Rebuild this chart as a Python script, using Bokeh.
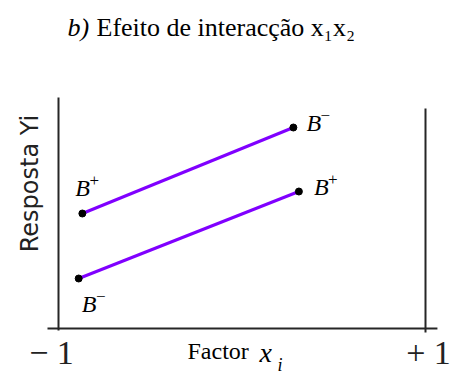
import math
from bokeh.plotting import figure
from bokeh.models import Range1d, Label
from bokeh.embed import file_html
from bokeh.resources import INLINE

# Levels of factor x_i shown on the horizontal axis
x_ticks = [-1, 1]
x_tick_labels = ["\u2212 1", "+ 1"]

# Response at the two ends of each line, with the level of B written at each end
upper_x = [-0.87, 0.28]
upper_y = [11.5, 20.1]
upper_levels = ["+", "\u2212"]

lower_x = [-0.89, 0.31]
lower_y = [5.0, 13.7]
lower_levels = ["\u2212", "+"]

title_tag = "b)"
title_text = "Efeito de interac\u00e7\u00e3o x\u2081x\u2082"
y_label = "Resposta Yi"
x_label = "Factor"
x_symbol = "x"
x_index = "i"

W, H = 451, 374
PX_PER_X = 183.5      # pixels per unit of x
PX_PER_Y = 10.0       # pixels per unit of response
X0_PX, Y0_PX = 58, 328  # where x=-1 and y=0 fall on the canvas
BASE = 10             # lift applied to alphabetic-baseline labels in the svg output

p = figure(
    width=W, height=H,
    x_range=Range1d(-1 - X0_PX / PX_PER_X, -1 + (W - X0_PX) / PX_PER_X),
    y_range=Range1d(-(H - Y0_PX) / PX_PER_Y, Y0_PX / PX_PER_Y),
    output_backend="svg", toolbar_location=None,
    x_axis_location=None, y_axis_location=None,
    min_border=0, outline_line_color=None,
    background_fill_color="white", border_fill_color="white",
)
p.xgrid.visible = False
p.ygrid.visible = False

AXIS_COLOR = "#262626"
# Axis frame: base line and the two verticals at the factor levels
p.segment(x0=[-1.06], y0=[0], x1=[1.065], y1=[0], line_color=AXIS_COLOR, line_width=2)
p.segment(x0=[x_ticks[0], x_ticks[1]], y0=[-0.2, -0.4], x1=[x_ticks[0], x_ticks[1]], y1=[23.1, 22.0],
          line_color=AXIS_COLOR, line_width=2)

LINE_COLOR = "#8000ff"
for xs, ys in ((upper_x, upper_y), (lower_x, lower_y)):
    p.line(xs, ys, line_color=LINE_COLOR, line_width=3)
    p.scatter(xs, ys, size=7, color="black")

SERIF = "Liberation Serif"

# B level labels next to each end point (offsets in pixels from the point)
label_offsets = {
    ("upper", 0): (-7, 16),
    ("upper", 1): (13, -5),
    ("lower", 0): (3, -35),
    ("lower", 1): (15, -5),
}
for name, xs, ys, levels in (("upper", upper_x, upper_y, upper_levels),
                             ("lower", lower_x, lower_y, lower_levels)):
    for i in range(2):
        dx, dy = label_offsets[(name, i)]
        p.add_layout(Label(x=xs[i], y=ys[i], x_offset=dx, y_offset=dy + BASE, text="B",
                           text_font=SERIF, text_font_style="italic", text_font_size="24px",
                           text_color="black", text_align="left", text_baseline="alphabetic"))
        p.add_layout(Label(x=xs[i], y=ys[i], x_offset=dx + 19, y_offset=dy + 17, text=levels[i],
                           text_font=SERIF, text_font_size="17px",
                           text_color="black", text_align="center", text_baseline="middle"))

# Tick labels at the two factor levels
tick_dx = [-7, 3]
for xv, lab, dx in zip(x_ticks, x_tick_labels, tick_dx):
    p.add_layout(Label(x=xv, y=H - 362 + BASE, x_units="data", y_units="screen", x_offset=dx,
                       text=lab, text_font=SERIF, text_font_size="34px", text_color="#222222",
                       text_align="center", text_baseline="alphabetic"))

# Axis title: "Factor x_i"
p.add_layout(Label(x=187, y=H - 360 + BASE, x_units="screen", y_units="screen", text=x_label,
                   text_font=SERIF, text_font_size="24px", text_color="black",
                   text_align="left", text_baseline="alphabetic"))
p.add_layout(Label(x=259, y=H - 362 + BASE, x_units="screen", y_units="screen", text=x_symbol,
                   text_font=SERIF, text_font_style="italic", text_font_size="28px",
                   text_color="black", text_align="left", text_baseline="alphabetic"))
p.add_layout(Label(x=277, y=H - 374 + BASE, x_units="screen", y_units="screen", text=x_index,
                   text_font=SERIF, text_font_style="italic", text_font_size="18px",
                   text_color="black", text_align="left", text_baseline="alphabetic"))

# Vertical axis title
p.add_layout(Label(x=39 - BASE, y=H - 183, x_units="screen", y_units="screen", text=y_label,
                   angle=math.pi / 2, text_font="DejaVu Sans", text_font_size="24px",
                   text_color="#222222", text_align="center", text_baseline="alphabetic"))

# Chart heading
p.add_layout(Label(x=67, y=H - 37 + BASE, x_units="screen", y_units="screen", text=title_tag,
                   text_font=SERIF, text_font_style="italic", text_font_size="26px",
                   text_color="black", text_align="left", text_baseline="alphabetic"))
p.add_layout(Label(x=96, y=H - 37 + BASE, x_units="screen", y_units="screen", text=title_text,
                   text_font=SERIF, text_font_size="26px",
                   text_color="black", text_align="left", text_baseline="alphabetic"))

open("out.html", "w").write(file_html(p, INLINE))
